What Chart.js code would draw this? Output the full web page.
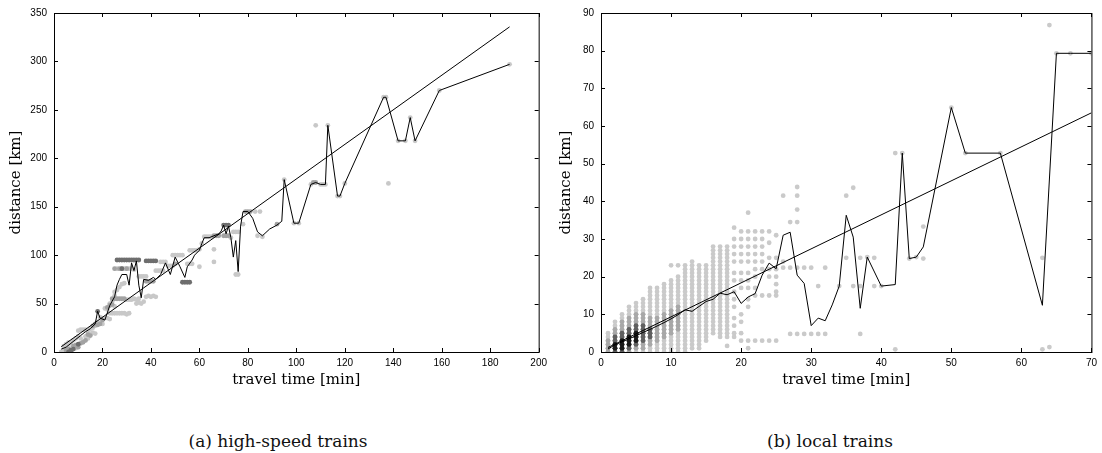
<!DOCTYPE html>
<html>
<head>
<meta charset="UTF-8">
<title>travel time vs distance</title>
<script src="https://cdn.jsdelivr.net/npm/chart.js"></script>
<style>
  body { margin: 0; background: #fff; width: 1102px; height: 453px; position: relative; overflow: hidden; }
  .panel { position: absolute; top: 0; width: 552px; height: 395px; }
  .caption { position: absolute; top: 431px; line-height: 20px; font-family: "DejaVu Serif", serif; font-size: 17px; color: #111; transform: translateX(-50%); white-space: nowrap; }
</style>
</head>
<body>
<div class="panel" style="left:0"><canvas id="hsChart"></canvas></div>
<div class="panel" style="left:550px"><canvas id="localChart"></canvas></div>
<div class="caption" style="left:278px">(a) high-speed trains</div>
<div class="caption" style="left:830px">(b) local trains</div>

<script>
// (a) high-speed trains: [travel time, distance]
const hsLight = [
  [3,0],[4,2],[4,6],[5,8],[6,5],[6,10],[7,9],[8,12],[9,14],[9,4],[10,16],[10,22],[11,23],[12,23],[13,23],
  [11,14],[12,11],[13,16],[14,14],[14,20],[15,19],[15,24],[16,20],[16,25],[17,19],[17,27],[18,31],[19,30],
  [20,29],[19,36],[20,35],[21,35],[22,35],[23,34],[21,45],[22,44],[23,50],[24,52],[25,47],
  [23,40],[24,40],[25,40],[26,40],[27,40],[28,40],[29,40],[30,39],[31,40],
  [25,62],[26,64],[27,67],[28,70],[29,71],[25,58],
  [26,86],[29,86],[30,86],[31,86],[32,86],[33,85],
  [30,54],[31,54],[32,54],[33,55],[34,54],[35,55],[34,50],[35,51],[36,50],[37,52],
  [38,57],[39,58],[40,57],[41,58],[42,57],
  [35,78],[36,78],[37,78],[38,78],
  [42,84],[43,84],[44,84],[45,84],
  [44,93],[45,93],[46,93],
  [47,89],[48,89],[49,89],
  [49,100],[50,100],[51,100],[52,100],[53,100],
  [55,91],[56,91],[57,91],
  [56,105],[57,105],[58,105],[59,105],[60,106],
  [60,88],[61,112],
  [62,119],[63,119],[64,119],[65,119],
  [66,106],[66,93],
  [73,118],[74,124],[75,124],[76,124],
  [75,80],[76,80],
  [78,132],[83,145],
  [84,120],[86,119],[85,145],
  [95,178],[99,133],[101,133],[106,173],[110,173],[111,173],[112,173],
  [108,234],[113,234],[117,161],[118,161],[120,174],
  [136,263],[137,263],[138,174],[142,218],[145,218],[147,242],[149,218],[159,270],[188,297]
];
const hsMid = [
  [5,2],[6,3],[8,6],[9,7],[10,5],[11,9],[12,10],[13,12],[14,18],[15,17],[16,27],[17,29],[18,28],[19,29],
  [20,33],[22,46],[23,48],[24,49],
  [24,55],[25,55],[26,55],[27,55],[28,55],[29,55],
  [25,86],[27,86],[28,86],[30,86],
  [38,73],[39,73],[40,73],[41,73],
  [50,91],[66,120],[67,120],[68,120],[70,120],[71,120],[72,120],
  [79,145],[80,145],[81,145],[92,132],[107,175],[108,175]
];
const hsDark = [
  [6,0],[7,0],[7,2],[8,3],[10,8],[18,42],[28,86],
  [26,95],[27,95],[28,95],[29,95],[30,95],[31,95],[32,95],[33,95],[34,95],[35,95],
  [38,94],[39,94],[40,94],[41,94],[42,94],
  [53,72],[54,72],[55,72],[56,72],
  [70,131],[71,131],[72,131]
];
const hsMeanT = [3,5,7,9,11,13,15,17,18,19,21,23,25,26,27,28,30,31,32,33,34,35,36,37,39,41,42,44,46,48,
  50,52,54,55,57,58,60,61,62,64,66,68,69,70,71,72,73,74,75,76,77,78,80,82,84,86,89,92,94,95,
  99,101,106,108,110,112,113,117,118,120,136,137,142,145,147,149,159,188];
const hsMeanD = [3,5,9,13,17,21,24,29,42,35,33,48,57,69,75,80,80,69,92,84,94,69,56,75,74,77,75,80,92,80,
  98,88,77,88,95,100,105,112,118,118,120,122,125,131,122,130,118,98,115,83,130,145,145,138,124,120,127,131,135,178,
  133,133,173,175,173,173,234,161,161,174,263,263,218,218,242,218,270,297];
const hsFitT = [3, 188];
const hsFitD = [5.5, 335.7];

// (b) local trains: columns [travel time, [distances]]
const localLight = [
  [1,[0,1,2,3,4,5]],
  [2,[0,1,2,3,4,5,6,7,8]],
  [3,[0,1,2,3,4,5,6,7,8,9,10]],
  [4,[0,1,2,3,4,5,6,7,8,9,10,11,12]],
  [5,[0,1,2,3,4,5,6,7,8,9,10,11,12,13]],
  [6,[0,1,2,3,4,5,6,7,8,9,10,11,12,13,14]],
  [7,[0,1,2,3,4,5,6,7,8,9,10,11,12,13,14,15,16,17]],
  [8,[0,1,2,3,4,5,6,7,8,9,10,11,12,13,14,15,16,17]],
  [9,[0,1,2,3,4,5,6,7,8,9,10,11,12,13,14,15,16,17,18]],
  [10,[0,1,2,3,4,5,6,7,8,9,10,11,12,13,14,15,16,17,18,19,23]],
  [11,[0,1,2,3,4,5,6,7,8,9,10,11,12,13,14,15,16,17,18,19,20,23]],
  [12,[0,1,2,3,4,5,6,7,8,9,10,11,12,13,14,15,16,17,18,19,20,21,22,23]],
  [13,[1,2,3,4,5,6,7,8,9,10,11,12,13,14,15,16,17,18,19,20,21,22,23,24]],
  [14,[1,2,3,4,5,6,7,8,9,10,11,12,13,14,15,16,17,18,19,20,21,22,23]],
  [15,[3,4,5,6,7,8,9,10,11,12,13,14,15,16,17,18,19,20,21,22,23]],
  [16,[5,6,7,8,9,10,11,12,13,14,15,16,17,18,19,20,21,22,23,24,25,26,27,28]],
  [17,[4,5,6,7,8,9,10,11,12,13,14,15,16,17,18,19,20,21,22,23,24,25,26,27,28]],
  [18,[1.6,4,5,6,7,8,9,10,11,12,13,14,15,16,17,18,19,20,21,22,23,24,25,26,27,28]],
  [19,[33,30,28,26,24,21,19,16,14,12,9,7,5,4]],
  [20,[32,30,28,26,24,21,19,17,10,8,5,3]],
  [21,[37,32,30,28,26,24,21,19,17,14,12,3,1]],
  [22,[32,30,28,26,24,22,20,17,15,3]],
  [23,[32,30,28,26,24,22,15,3]],
  [24,[32,29,25,22,20,15,3]],
  [25,[31,25,22,20,18,16,15,3]],
  [26,[41.5,24,22.4]],
  [27,[34.5,22.4,4.8]],
  [28,[43.8,41.5,37.8,34.5,22.4,4.8]],
  [29,[22.4,4.8]],
  [30,[22.4,4.8]],
  [31,[17.5,4.8]],
  [32,[22.4,4.8]],
  [34,[17.5]],
  [35,[41.5,25]],
  [36,[43.6,17.5]],
  [37,[25,17.5,4.8]],
  [38,[25.2]],
  [39,[25,17.5]],
  [40,[17.5]],
  [42,[52.8,0.7]],
  [43,[52.8]],
  [44,[24.8]],
  [45,[25.2]],
  [46,[33.3,24.8]],
  [50,[64.9]],
  [52,[52.8]],
  [57,[52.8]],
  [63,[25,0.7]],
  [64,[86.8,1.3]],
  [65,[79.3]],
  [67,[79.3]],
  [70,[79.3]]
];
const localMid = [
  [1,[0,1,2,3]],
  [2,[0,1,2,3,4,5,6]],
  [3,[0,1,2,3,4,5,6,7,8]],
  [4,[0,1,2,3,4,5,6,7,8,9]],
  [5,[1,2,3,4,5,6,7,8,9,10]],
  [6,[1,2,3,4,5,6,7,8,9,10]],
  [7,[2,3,4,5,6,7,8,9]],
  [8,[3,4,5,6,7,8,9]],
  [9,[4,5,6,7,8,9,10]],
  [10,[5,6,7,8,9,10,11]],
  [11,[6,7,8,9,10,11,12]]
];
const localDark = [
  [2,[0,1,2,3,4]],
  [3,[0,1,2,3,4,5]],
  [4,[1,2,3,4,5,6]],
  [5,[2,3,4,5,6,7]],
  [6,[3,4,5,6,7]],
  [7,[4,5,6]]
];
const localBlack = [
  [2,[1,2]],
  [3,[1,2,3]],
  [4,[2,3,4]],
  [5,[3,4,5]]
];
const localMeanT = [1,2,3,4,5,6,7,8,9,10,11,12,13,14,15,16,17,18,19,20,21,22,23,24,25,26,27,28,29,30,
  31,32,33,34,35,36,37,38,40,42,43,44,45,46,50,52,57,63,65,67,70];
const localMeanD = [0.8,1.9,2.7,3.5,4.3,5.2,6,6.9,7.8,8.8,9.9,11.2,10.8,12.1,13.4,14,15.6,15.2,16,12.9,
  14.6,15.5,20.4,23.6,22.1,31,31.8,20.4,18.2,7,9,8.3,12.5,17.5,36.3,30.5,11.6,25.2,17.5,17.9,
  52.8,24.8,25.2,27.9,64.9,52.8,52.8,12.4,79.3,79.3,79.3];
const localFitT = [1, 70];
const localFitD = [1.2, 63.5];

const tickFont = { family: 'Liberation Sans', size: 10 };
const titleFont = { family: 'DejaVu Serif', size: 15 };

function pairs(list) {
  return list.map(p => ({ x: p[0], y: p[1] }));
}
function columns(list) {
  const out = [];
  list.forEach(c => c[1].forEach(d => out.push({ x: c[0], y: d })));
  return out;
}
function xy(ts, ds) {
  return ts.map((t, i) => ({ x: t, y: ds[i] }));
}

function dots(data, color) {
  return { type: 'scatter', data: data, backgroundColor: color, borderWidth: 0,
           pointRadius: 2.4, pointHoverRadius: 2.4, pointStyle: 'circle' };
}
function line(data) {
  return { type: 'line', data: data, borderColor: '#000', borderWidth: 1, pointRadius: 0,
           fill: false, tension: 0 };
}

// box round the plot with ticks pointing inwards on all four sides
const frame = {
  id: 'frame',
  afterDatasetsDraw(chart) {
    const { ctx, chartArea: a, scales: { x, y } } = chart;
    ctx.save();
    ctx.strokeStyle = '#000';
    ctx.lineWidth = 1;
    ctx.strokeRect(a.left + 0.5, a.top + 0.5, a.right - a.left, a.bottom - a.top);
    ctx.beginPath();
    x.ticks.forEach(t => {
      const px = Math.round(x.getPixelForValue(t.value)) + 0.5;
      ctx.moveTo(px, a.bottom); ctx.lineTo(px, a.bottom - 4);
      ctx.moveTo(px, a.top); ctx.lineTo(px, a.top + 4);
    });
    y.ticks.forEach(t => {
      const py = Math.round(y.getPixelForValue(t.value)) + 0.5;
      ctx.moveTo(a.left, py); ctx.lineTo(a.left + 4, py);
      ctx.moveTo(a.right, py); ctx.lineTo(a.right - 4, py);
    });
    ctx.stroke();
    ctx.restore();
  }
};

function makeChart(id, datasets, xMax, xStep, yMax, yStep, yWidth, rightPad) {
  return new Chart(document.getElementById(id), {
    type: 'scatter',
    data: { datasets: datasets },
    plugins: [frame],
    options: {
      responsive: true,
      maintainAspectRatio: false,
      animation: false,
      layout: { padding: { top: 12, right: rightPad, left: 0, bottom: 0 } },
      plugins: { legend: { display: false }, tooltip: { enabled: false } },
      scales: {
        x: {
          type: 'linear', min: 0, max: xMax,
          ticks: { stepSize: xStep, padding: 5, font: tickFont, color: '#000', maxRotation: 0 },
          grid: { display: false, drawTicks: false },
          border: { display: false },
          title: { display: true, text: 'travel time [min]', font: titleFont, color: '#000',
                   padding: { top: 0, bottom: 6 } },
          afterFit(s) { s.height = 43; }
        },
        y: {
          type: 'linear', min: 0, max: yMax,
          ticks: { stepSize: yStep, padding: 7, font: tickFont, color: '#000' },
          grid: { display: false, drawTicks: false },
          border: { display: false },
          title: { display: true, text: 'distance [km]', font: titleFont, color: '#000',
                   padding: { top: 7.5, bottom: 0 } },
          afterFit(s) { s.width = yWidth; }
        }
      }
    }
  });
}

makeChart('hsChart', [
  line(xy(hsFitT, hsFitD)),
  line(xy(hsMeanT, hsMeanD)),
  dots(pairs(hsDark), '#6e6e6e'),
  dots(pairs(hsMid), '#a2a2a2'),
  dots(pairs(hsLight), '#c8c8c8')
], 200, 20, 350, 50, 54, 12);

makeChart('localChart', [
  line(xy(localFitT, localFitD)),
  line(xy(localMeanT, localMeanD)),
  dots(columns(localBlack), '#1a1a1a'),
  dots(columns(localDark), '#606060'),
  dots(columns(localMid), '#a8a8a8'),
  dots(columns(localLight), '#cacaca')
], 70, 10, 90, 10, 51, 9);
</script>
</body>
</html>
